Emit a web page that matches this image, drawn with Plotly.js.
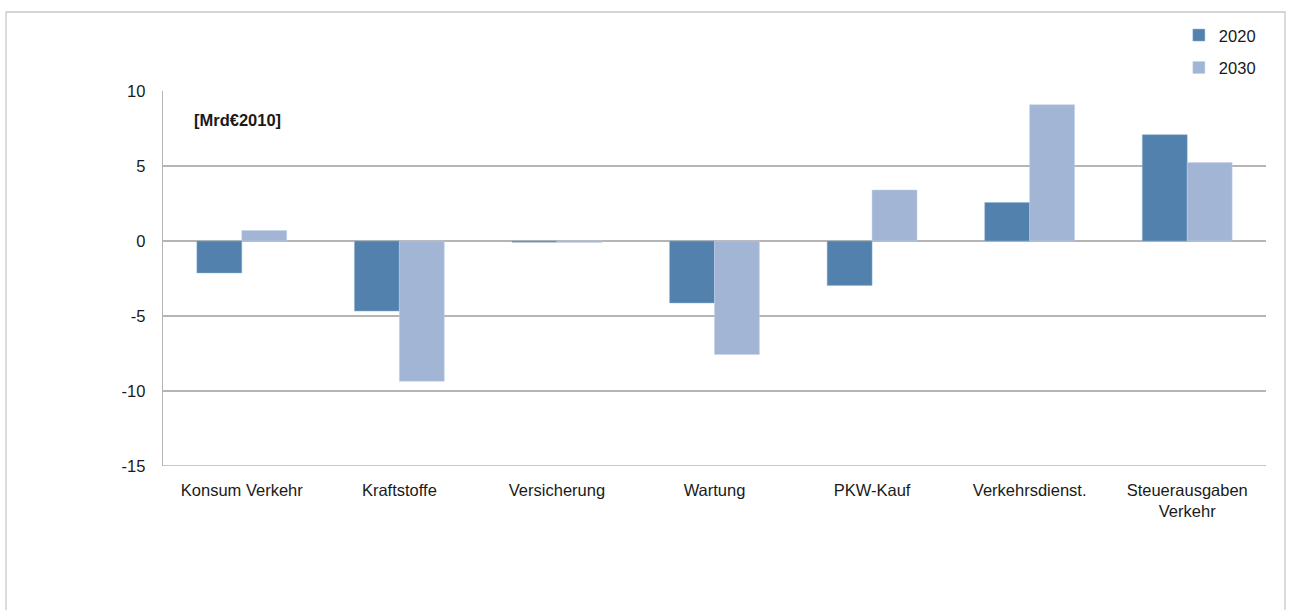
<!DOCTYPE html>
<html>
<head>
<meta charset="utf-8">
<script src="https://cdn.plot.ly/plotly-3.0.1.min.js"></script>
<style>html,body{margin:0;padding:0;background:#fff;}#chart{width:1290px;height:610px;}</style>
</head>
<body>
<div id="chart"></div>
<script>
const categories = ["Konsum Verkehr", "Kraftstoffe", "Versicherung", "Wartung", "PKW-Kauf", "Verkehrsdienst.", "Steuerausgaben<br>Verkehr"];
const values2020 = [-2.13, -4.67, -0.08, -4.13, -2.96, 2.56, 7.09];
const values2030 = [0.7, -9.35, -0.1, -7.56, 3.4, 9.09, 5.24];
const seriesNames = ["2020", "2030"];
const yTicks = [-15, -10, -5, 0, 5, 10];

const traces = [
  {type: "bar", name: seriesNames[0], x: categories, y: values2020, legendgroup: "a",
   marker: {color: "#5281ae", line: {color: "#8fb0cf", width: 0.5}}},
  {type: "bar", name: seriesNames[1], x: categories, y: values2030, legendgroup: "b",
   marker: {color: "#a2b5d4", line: {color: "#c3d1e6", width: 0.5}}}
];

const layout = {
  width: 1290, height: 610,
  margin: {l: 163, r: 24, t: 91, b: 144, autoexpand: false},
  paper_bgcolor: "#ffffff", plot_bgcolor: "#ffffff",
  font: {family: "Liberation Sans, Arial, sans-serif", size: 16.5, color: "#1a1a1a"},
  barmode: "group", bargap: 0.43, bargroupgap: 0,
  showlegend: true,
  legend: {x: 0.921, xanchor: "left", y: 1.195, yanchor: "top", traceorder: "grouped",
           tracegroupgap: 8, font: {size: 16.5, color: "#1a1a1a"}, bgcolor: "rgba(0,0,0,0)"},
  xaxis: {showgrid: false, showline: false, ticks: "", zeroline: false,
          tickfont: {size: 16.5}, ticklabelstandoff: 12, fixedrange: true, automargin: false},
  yaxis: {range: [-15, 10], tickvals: yTicks, ticktext: yTicks.map(String),
          showgrid: true, gridcolor: "#b5b5b5", gridwidth: 1.3,
          zeroline: true, zerolinecolor: "#b5b5b5", zerolinewidth: 1.3,
          showline: true, linecolor: "#b5b5b5", linewidth: 1.3, ticks: "",
          tickfont: {size: 16.5}, ticklabelstandoff: 13, fixedrange: true, automargin: false},
  annotations: [
    {text: "<b>[Mrd€2010]</b>", xref: "paper", yref: "paper", x: 0.026, y: 0.923,
     xanchor: "left", yanchor: "middle", showarrow: false, font: {size: 16.5, color: "#1a1a1a"}}
  ],
  shapes: [
    {type: "rect", xref: "paper", yref: "paper", x0: -0.1423, x1: 1.0172, y0: -0.6, y1: 1.2107,
     line: {color: "#c8c8c8", width: 1.3}, fillcolor: "rgba(0,0,0,0)", layer: "below"},
    {type: "line", xref: "paper", yref: "y", x0: 0, x1: 1, y0: -15, y1: -15,
     line: {color: "#b5b5b5", width: 1.3}}
  ]
};

Plotly.newPlot("chart", traces, layout, {displayModeBar: false, staticPlot: true});
</script>
</body>
</html>
